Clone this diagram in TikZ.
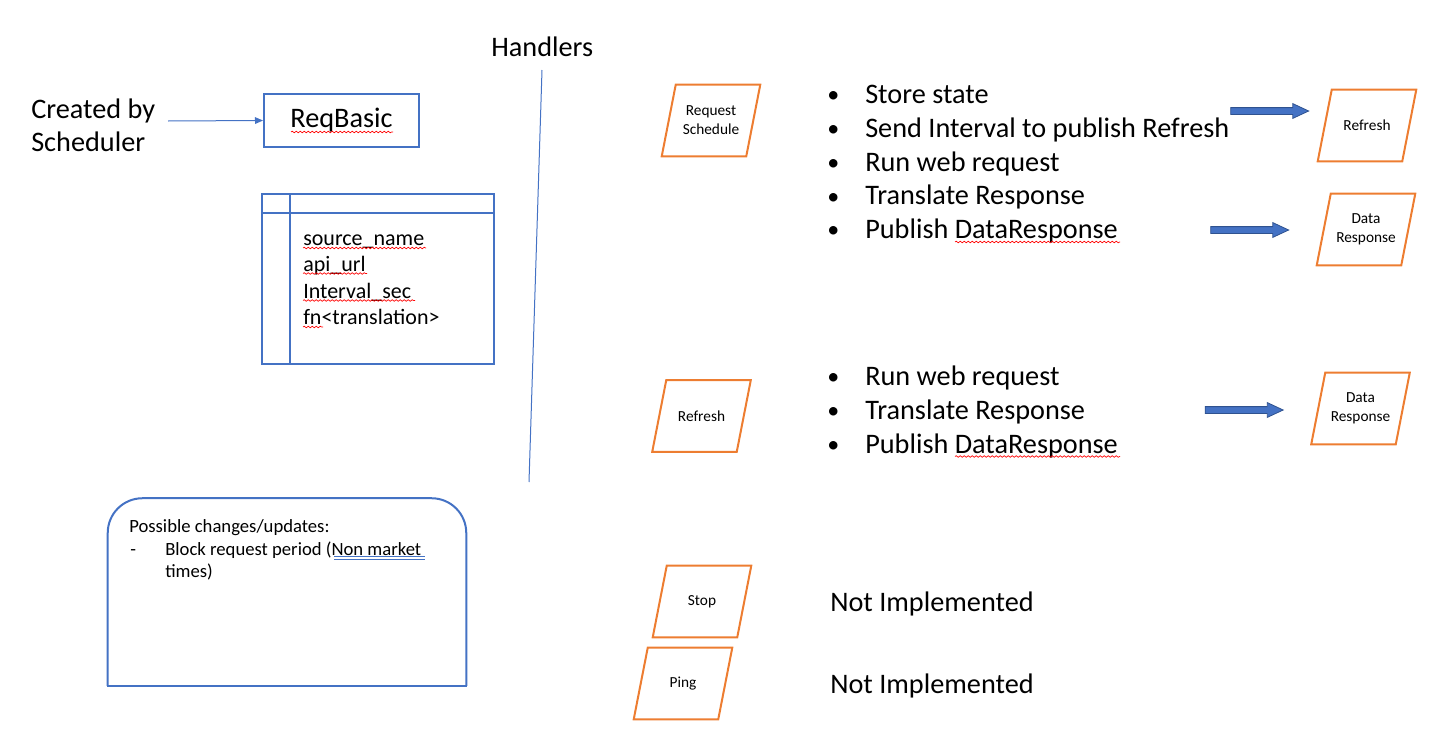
\documentclass[tikz,border=0pt]{standalone}
\usepackage{fontspec}
\setmainfont{Carlito}
\usetikzlibrary{shapes.geometric,shapes.arrows,arrows.meta,calc,decorations.pathmorphing}
\definecolor{oblue}{HTML}{4472C4}
\definecolor{dblue}{HTML}{2F528F}
\definecolor{oorange}{HTML}{ED7D31}
\newcommand\bulitem[1]{\makebox[28.5pt][l]{\raisebox{0.6pt}{\scalebox{0.85}{•}}}#1}
\newcommand\paranode[3]{%
  \node[pbox] (#1) at (#2) {#3};
  \draw[pline] ($(#1.north west)+(7,0)$) -- ($(#1.north east)+(7,0)$)
    -- ($(#1.south east)+(-7,0)$) -- ($(#1.south west)+(-7,0)$) -- cycle;}
\begin{document}
\begin{tikzpicture}[x=0.75pt,y=-0.75pt,
 big/.style={font=\fontsize{21.2}{25.5}\selectfont, inner sep=0, anchor=base west},
 mid/.style={font=\fontsize{16.5}{20}\selectfont, inner sep=0, anchor=base west},
 note/.style={font=\fontsize{14}{17}\selectfont, inner sep=0, anchor=base west},
 pbox/.style={rectangle, minimum width=63pt, minimum height=53.25pt,
   font=\fontsize{11.5}{14.25}\selectfont, align=center, inner sep=0},
 pline/.style={draw=oorange, line width=1.5pt, line join=miter},
 bluebox/.style={draw=oblue, line width=1.5pt, inner sep=0},
 blueline/.style={draw=oblue, line width=1.5pt},
 thinblue/.style={draw=oblue, line width=0.75pt},
 fat/.style={single arrow, draw=dblue, fill=oblue, line width=0.6pt, minimum height=58.5pt,
   single arrow head extend=3pt, inner sep=2.25pt, single arrow tip angle=50, single arrow head indent=0pt},
 squig/.style={draw=red, line width=0.5pt, decorate, decoration={snake, amplitude=0.6pt, segment length=3pt}},
]
\useasboundingbox (0,0) rectangle (1447,732);

% left part
\node[big] (cb1) at (31,118) {Created by};
\node[big] (cb2) at (31,151) {Scheduler};
\node[bluebox, minimum width=116.25pt, minimum height=39.75pt, font=\fontsize{21.2}{25.5}\selectfont] (rb) at (341.5,120.5) {ReqBasic};
\coordinate (cbarrow) at (168,121);
\draw[thinblue, -{Triangle[length=6pt,width=5pt]}] (cbarrow) -- (rb.west);

\node[bluebox, minimum width=174pt, minimum height=127.5pt] (tbl) at (378,279) {};
\draw[blueline] ($(tbl.north west)+(0,20)$) -- ($(tbl.north east)+(0,20)$);
\draw[blueline] ($(tbl.north west)+(29,0)$) -- ($(tbl.south west)+(29,0)$);
\node[mid] (t1) at (303,245) {source\_name};
\node[mid] (t2) at (303,271.5) {api\_url};
\node[mid] (t3) at (303,298) {Interval\_sec};
\node[mid] (t4) at (303,324.5) {fn<translation>};

% squiggles
\draw[squig] (291,132) -- (393,132);
\draw[squig] (303,248) -- (426,248);
\draw[squig] (303,273.5) -- (367,273.5);
\draw[squig] (303,300.5) -- (415,300.5);
\draw[squig] (303,327) -- (323,327);

% note box
\node[inner sep=0, minimum width=268.5pt, minimum height=140.25pt] (nb) at (287,592) {};
\draw[blueline, rounded corners=26pt] (nb.south west) -- (nb.north west) -- (nb.north east) -- (nb.south east);
\draw[blueline, line cap=rect] (nb.south west) -- (nb.south east);
\node[note] (n1) at (129,532.5) {Possible changes/updates:};
\node[note] (n2) at (130,555) {-};
\node[note] (n3) at (165,555) {Block request period (Non market};
\node[note] (n4) at (165,577.5) {times)};
\draw[oblue, line width=0.45pt] (334,556.5) -- (425,556.5);
\draw[oblue, line width=0.45pt] (334,559) -- (425,559);

% handlers
\node[big] (hd) at (491,56) {Handlers};
\coordinate (h1) at (542,70);
\coordinate (h2) at (529,482);
\draw[thinblue] (h1) -- (h2);

% parallelograms
\paranode{rs}{711,120.5}{Request\\Schedule}
\paranode{rf1}{1367,125.5}{Refresh}
\paranode{dr1}{1366,229.5}{Data\\Response}
\paranode{rf2}{701.5,416}{Refresh}
\paranode{dr2}{1360.5,408.5}{Data\\Response}
\paranode{st}{702,601.5}{Stop}
\paranode{pg}{683,683.5}{Ping}

% bullets group 1
\node[big] (b1) at (827,103.5) {\bulitem{Store state}};
\node[big] (b2) at (827,137.3) {\bulitem{Send Interval to publish Refresh}};
\node[big] (b3) at (827,171.1) {\bulitem{Run web request}};
\node[big] (b4) at (827,204.9) {\bulitem{Translate Response}};
\node[big] (b5) at (827,238.7) {\bulitem{Publish DataResponse}};
\draw[squig] (955,242) -- (1120,242);

% bullets group 2
\node[big] (c1) at (827,385) {\bulitem{Run web request}};
\node[big] (c2) at (827,419) {\bulitem{Translate Response}};
\node[big] (c3) at (827,453) {\bulitem{Publish DataResponse}};
\draw[squig] (955,456.5) -- (1120,456.5);

\node[big] (ni1) at (830,611) {Not Implemented};
\node[big] (ni2) at (830,693) {Not Implemented};

% fat arrows
\node[fat] (fa1) at (1266,111) {};
\node[fat] (fa2) at (1246,230) {};
\node[fat] (fa3) at (1240.5,410) {};
\end{tikzpicture}
\end{document}
